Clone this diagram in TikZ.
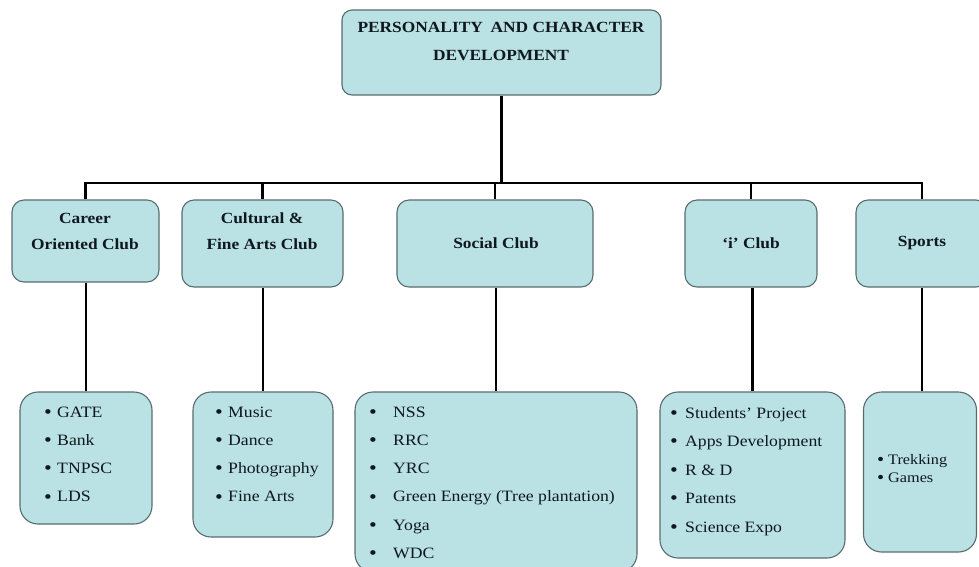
\documentclass[tikz,border=0pt]{standalone}
\usepackage{fontspec}
\setmainfont{Liberation Serif}[FakeStretch=1.12]
\definecolor{boxfill}{RGB}{186,225,228}
\definecolor{boxline}{RGB}{88,108,110}
\definecolor{ink}{RGB}{14,24,30}
\newcommand{\dotmark}{\raisebox{-1.2pt}{\scalebox{1.25}{\textbullet}}}
\begin{document}
\begin{tikzpicture}[x=1pt,y=-1pt,
  box/.style={draw=boxline, fill=boxfill, rounded corners=12pt, line width=1.1pt, inner sep=0pt},
  listbox/.style={box, rounded corners=18pt},
  link/.style={line width=2.8pt, draw=black},
  hdr/.style={font=\bfseries\fontsize{15.5}{26}\selectfont, align=center, text=ink, inner sep=0pt},
  item/.style={font=\fontsize{15.8}{18}\selectfont, anchor=base west, inner sep=0pt, text=ink}]
\useasboundingbox (0,0) rectangle (979,566);

% top level
\node[box, rounded corners=10pt, minimum width=319pt, minimum height=85pt] (top) at (501.5,52.5) {};
\node[hdr, font=\bfseries\fontsize{15.5}{28}\selectfont] (toptxt) at (501,41) {PERSONALITY\enspace AND CHARACTER\\DEVELOPMENT};

% club headers
\node[box, minimum width=147pt, minimum height=82pt] (career) at (85.5,241) {};
\node[box, minimum width=161pt, minimum height=87pt] (cultural) at (262.5,243.5) {};
\node[box, minimum width=196pt, minimum height=87pt] (social) at (495,243.5) {};
\node[box, minimum width=132pt, minimum height=87pt] (iclub) at (751,243.5) {};
\node[box, minimum width=132pt, minimum height=87pt] (sports) at (922,243.5) {};

\node[hdr] (careertxt) at (85,231) {Career\\Oriented Club};
\node[hdr] (culturaltxt) at (262,231) {Cultural \&\\Fine Arts Club};
\node[hdr] (socialtxt) at (496,243) {Social Club};
\node[hdr] (iclubtxt) at (751,243) {‘i’ Club};
\node[hdr] (sportstxt) at (922,243) {Sports};

% activity lists
\node[listbox, minimum width=132pt, minimum height=132pt] (careerlist) at (86,458) {};
\node[listbox, minimum width=140pt, minimum height=145pt] (culturallist) at (263,464.5) {};
\node[listbox, minimum width=282pt, minimum height=180pt] (sociallist) at (496,482) {};
\node[listbox, minimum width=185pt, minimum height=166pt] (ilist) at (752.5,475) {};
\node[listbox, minimum width=113pt, minimum height=160pt] (sportslist) at (920,472) {};

\foreach \t [count=\i from 0] in {GATE, Bank, TNPSC, LDS}
  \node[item, name=car\i] at (44,417+28.3*\i) {\makebox[13pt][l]{\dotmark}\t};
\foreach \t [count=\i from 0] in {Music, Dance, Photography, Fine Arts}
  \node[item, name=cul\i] at (215,417+28.3*\i) {\makebox[13pt][l]{\dotmark}\t};
\foreach \t [count=\i from 0] in {NSS, RRC, YRC, Green Energy (Tree plantation), Yoga, WDC}
  \node[item, name=soc\i] at (369,417+28.3*\i) {\makebox[24pt][l]{\dotmark}\t};
\foreach \t [count=\i from 0] in {Students’ Project, Apps Development, R \& D, Patents, Science Expo}
  \node[item, name=icl\i] at (670,418+28.5*\i) {\makebox[15pt][l]{\dotmark}\t};
\foreach \t [count=\i from 0] in {Trekking, Games}
  \node[item, name=spo\i, font=\fontsize{14.5}{18}\selectfont] at (877,464+18*\i) {\makebox[11pt][l]{\dotmark}\t};

% connectors
\coordinate (bar) at (501,183);
\draw[link] (top.south) -- (top.south |- bar);
\draw[link] (career.north) |- (bar) -| (sports.north);
\draw[link] (cultural.north |- bar) -- (cultural.north);
\draw[link] (social.north |- bar) -- (social.north);
\draw[link] (iclub.north |- bar) -- (iclub.north);

\draw[link] (careerlist.north |- career.south) -- (careerlist.north);
\draw[link] (culturallist.north |- cultural.south) -- (culturallist.north);
\draw[link] (sociallist.north |- social.south) -- (sociallist.north);
\draw[link] (ilist.north |- iclub.south) -- (ilist.north);
\draw[link] (sports.south) -- (sports.south |- sportslist.north);
\end{tikzpicture}
\end{document}
